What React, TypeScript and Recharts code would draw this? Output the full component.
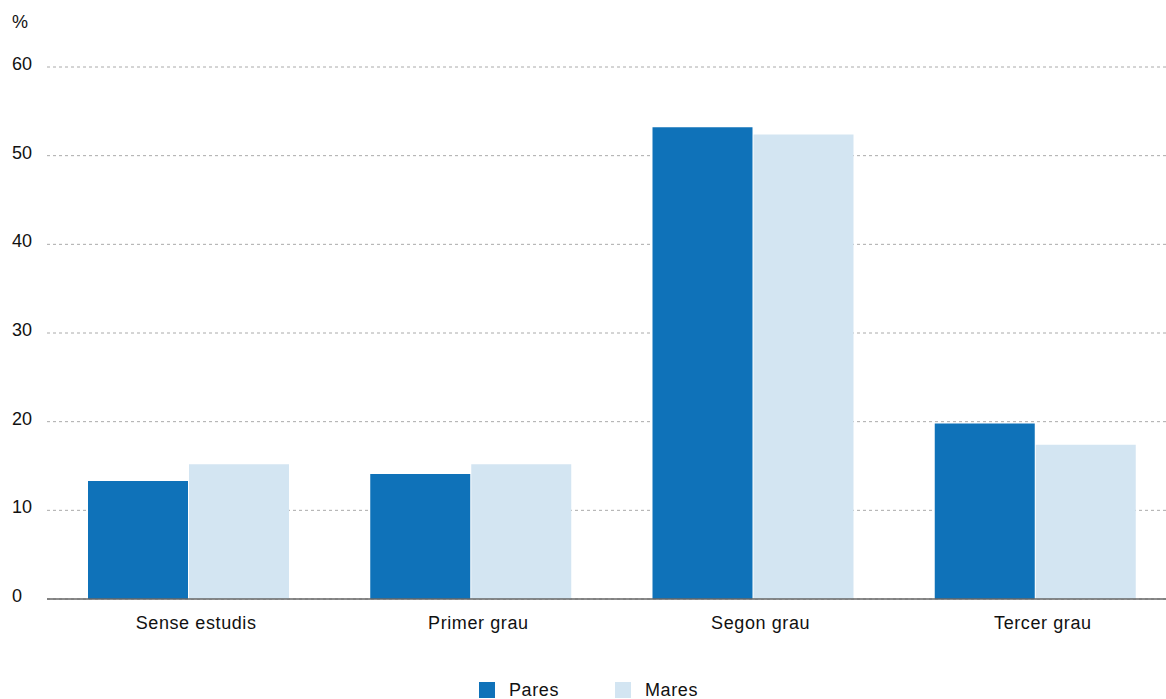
import React from "react";
import { BarChart, Bar, XAxis, YAxis, CartesianGrid, Legend } from "recharts";

const categories = ["Sense estudis", "Primer grau", "Segon grau", "Tercer grau"];
const pares = [13.3, 14.1, 53.2, 19.8];
const mares = [15.2, 15.2, 52.4, 17.4];
const yTicks = [0, 10, 20, 30, 40, 50, 60];
const seriesOrder = ["Pares", "Mares"];
const unitLabel = "%";

const data = categories.map((c, i) => ({ name: c, pares: pares[i], mares: mares[i] }));

const FONT = "'Liberation Sans', Arial, Helvetica, sans-serif";
const PARES_COLOR = "#0F72B9";
const MARES_COLOR = "#D3E5F2";

const YTick = (props: any) => {
  const { y, payload } = props;
  return (
    <text x={13} y={y + 3} textAnchor="start" fontSize={18} fill="#111" fontFamily={FONT}>
      {payload.value}
    </text>
  );
};

const XTick = (props: any) => {
  const { x, y, payload } = props;
  return (
    <text x={x + 8} y={y + 22} textAnchor="middle" fontSize={18} letterSpacing={0.6} fill="#111" fontFamily={FONT}>
      {payload.value}
    </text>
  );
};

const LegendContent = (props: any) => {
  const payload = [...(props.payload || [])].sort(
    (a: any, b: any) => seriesOrder.indexOf(a.value) - seriesOrder.indexOf(b.value)
  );
  return (
    <div style={{ display: "flex", justifyContent: "center", paddingTop: 23, paddingLeft: 2, fontFamily: FONT, fontSize: 18, letterSpacing: 0.6, color: "#111" }}>
      {payload.map((p: any, i: number) => (
        <div key={i} style={{ display: "flex", alignItems: "center", marginRight: i === 0 ? 56 : 0 }}>
          <span style={{ display: "inline-block", width: 16, height: 16, background: p.color, marginRight: 14 }} />
          <span style={{ lineHeight: "16px" }}>{p.value}</span>
        </div>
      ))}
    </div>
  );
};

export default function App() {
  return (
    <div style={{ position: "fixed", left: 0, top: 0, width: 1166, height: 699, overflow: "hidden", background: "#fff" }}>
      <div style={{ position: "absolute", left: 12, top: 12, fontFamily: FONT, fontSize: 18, color: "#111" }}>{unitLabel}</div>
      <div style={{ position: "absolute", left: -1, top: 0 }}>
        <BarChart
          width={1177}
          height={699}
          data={data}
          margin={{ top: 67, right: 0, bottom: 0, left: 0 }}
          barGap={1}
        >
          <CartesianGrid vertical={false} stroke="#aaa" strokeDasharray="3 3" />
          <XAxis
            dataKey="name"
            height={60}
            tickLine={false}
            axisLine={{ stroke: "#666", strokeWidth: 1.5 }}
            tick={<XTick />}
            interval={0}
          />
          <YAxis
            width={48}
            domain={[0, 60]}
            ticks={yTicks}
            axisLine={false}
            tickLine={false}
            tick={<YTick />}
          />
          <Legend verticalAlign="bottom" height={40} content={<LegendContent />} />
          <Bar dataKey="pares" name={seriesOrder[0]} fill={PARES_COLOR} barSize={100} isAnimationActive={false} />
          <Bar dataKey="mares" name={seriesOrder[1]} fill={MARES_COLOR} barSize={100} isAnimationActive={false} />
        </BarChart>
      </div>
    </div>
  );
}
